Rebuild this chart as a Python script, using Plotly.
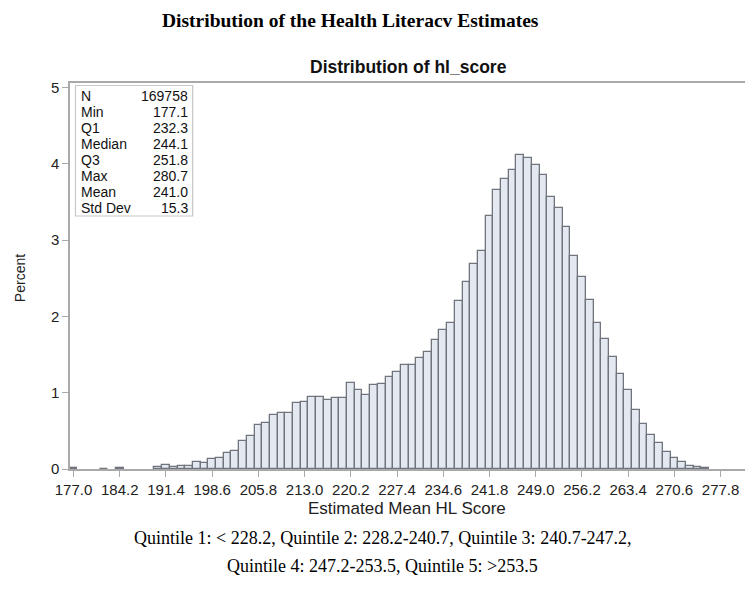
import plotly.graph_objects as go

# Histogram bins (midpoints) and percent of observations
bin_mid = [177.0, 181.8, 184.2, 190.2, 191.4, 192.6, 193.8, 195.0, 196.2, 197.4,
           198.6, 199.8, 201.0, 202.2, 203.4, 204.6, 205.8, 207.0, 208.2, 209.4,
           210.6, 211.8, 213.0, 214.2, 215.4, 216.6, 217.8, 219.0, 220.2, 221.4,
           222.6, 223.8, 225.0, 226.2, 227.4, 228.6, 229.8, 231.0, 232.2, 233.4,
           234.6, 235.8, 237.0, 238.2, 239.4, 240.6, 241.8, 243.0, 244.2, 245.4,
           246.6, 247.8, 249.0, 250.2, 251.4, 252.6, 253.8, 255.0, 256.2, 257.4,
           258.6, 259.8, 261.0, 262.2, 263.4, 264.6, 265.8, 267.0, 268.2, 269.4,
           270.6, 271.8, 273.0, 274.2, 275.4]
percent = [0.01, 0.006, 0.008, 0.03, 0.055, 0.03, 0.04, 0.04, 0.09, 0.08,
           0.13, 0.14, 0.21, 0.23, 0.37, 0.43, 0.58, 0.60, 0.71, 0.74,
           0.73, 0.87, 0.88, 0.95, 0.95, 0.91, 0.935, 0.935, 1.13, 1.03,
           0.975, 1.105, 1.12, 1.21, 1.27, 1.36, 1.36, 1.46, 1.54, 1.69,
           1.82, 1.91, 2.20, 2.45, 2.69, 2.86, 3.32, 3.66, 3.80, 3.92,
           4.12, 4.08, 3.99, 3.85, 3.57, 3.42, 3.17, 2.79, 2.52, 2.21,
           1.92, 1.71, 1.47, 1.25, 1.04, 0.77, 0.59, 0.45, 0.34, 0.22,
           0.14, 0.087, 0.04, 0.026, 0.013]
bin_width = 1.2

x_ticks = [177.0, 184.2, 191.4, 198.6, 205.8, 213.0, 220.2, 227.4, 234.6,
           241.8, 249.0, 256.2, 263.4, 270.6, 277.8]
y_ticks = [0, 1, 2, 3, 4, 5]

stat_names = ["N", "Min", "Q1", "Median", "Q3", "Max", "Mean", "Std Dev"]
stat_values = ["169758", "177.1", "232.3", "244.1", "251.8", "280.7", "241.0", "15.3"]

main_title = "Distribution of the Health Literacv Estimates"
plot_title = "Distribution of hl_score"
x_title = "Estimated Mean HL Score"
y_title = "Percent"
footnote_1 = "Quintile 1: < 228.2, Quintile 2: 228.2-240.7, Quintile 3: 240.7-247.2,"
footnote_2 = "Quintile 4: 247.2-253.5, Quintile 5: >253.5"

# page body has an 8px margin; work in page coordinates and shift
OFF = 8
W, H = 753 - OFF, 595 - OFF
L, R, T, B = 70 - OFF, 747 - OFF, 83 - OFF, 469 - OFF
pw, ph = R - L, B - T

def px(x):
    return (x - OFF - L) / pw

def py(y):
    return (B - (y - OFF)) / ph

SANS = "Liberation Sans, Arial, sans-serif"
SERIF = "Liberation Serif, Times New Roman, serif"

fig = go.Figure()
fig.add_trace(go.Bar(
    x=bin_mid, y=percent, width=[bin_width] * len(bin_mid),
    marker=dict(color="#E4E8F1", line=dict(color="#70747C", width=1.3)),
    hoverinfo="x+y",
))

axis_col = "#A9A9A9"
tick_font = dict(family=SANS, size=15, color="#222222")

fig.update_layout(
    width=W, height=H,
    margin=dict(l=L, r=W - R, t=T, b=H - B),
    plot_bgcolor="white", paper_bgcolor="white",
    showlegend=False, bargap=0,
    xaxis=dict(
        range=[176.45, 281.6], tickmode="array", tickvals=x_ticks,
        ticktext=[f"{v:.1f}" for v in x_ticks],
        showgrid=False, zeroline=False, showline=True, linecolor=axis_col,
        linewidth=1.5, mirror=True, ticks="outside", ticklen=6,
        tickcolor=axis_col, tickfont=tick_font,
    ),
    yaxis=dict(
        range=[0, 5.06], tickmode="array", tickvals=y_ticks,
        ticktext=[str(v) for v in y_ticks],
        showgrid=False, zeroline=False, showline=True, linecolor=axis_col,
        linewidth=1.5, mirror=True, ticks="outside", ticklen=6,
        tickcolor=axis_col, tickfont=tick_font,
    ),
)

# Axis titles
fig.add_annotation(xref="paper", yref="paper", x=px(408), y=py(509), text=x_title,
                   showarrow=False, xanchor="center", yanchor="middle",
                   font=dict(family=SANS, size=17, color="#222222"))
fig.add_annotation(xref="paper", yref="paper", x=px(20), y=py(278), text=y_title,
                   showarrow=False, xanchor="center", yanchor="middle", textangle=-90,
                   font=dict(family=SANS, size=14, color="#222222"))

# Statistics inset box
fig.add_shape(type="rect", xref="paper", yref="paper",
              x0=px(75.5), x1=px(193), y0=py(216), y1=py(85.5),
              line=dict(color="#C8C8C8", width=1.2), fillcolor="white", layer="above")

row0, step = 95.7, 16.09
for i, (nm, val) in enumerate(zip(stat_names, stat_values)):
    yy = py(row0 + i * step)
    fig.add_annotation(xref="paper", yref="paper", x=px(79), y=yy, text=nm,
                       showarrow=False, xanchor="left", yanchor="middle",
                       font=dict(family=SANS, size=14, color="#111111"))
    fig.add_annotation(xref="paper", yref="paper", x=px(190), y=yy, text=val,
                       showarrow=False, xanchor="right", yanchor="middle",
                       font=dict(family=SANS, size=14, color="#111111"))

# Plot title
fig.add_annotation(xref="paper", yref="paper", x=px(410), y=py(67), text=f"<b>{plot_title}</b>",
                   showarrow=False, xanchor="center", yanchor="middle",
                   font=dict(family=SANS, size=17.5, color="#111111"))

# Main (figure) title, kept fully inside the page
fig.add_annotation(xref="paper", yref="paper", x=px(351), y=py(OFF), text=f"<b>{main_title}</b>",
                   showarrow=False, xanchor="center", yanchor="top",
                   font=dict(family=SERIF, size=19.5, color="#000000"))

# Footnotes
fig.add_annotation(xref="paper", yref="paper", x=px(383.5), y=py(538), text=footnote_1,
                   showarrow=False, xanchor="center", yanchor="middle",
                   font=dict(family=SERIF, size=18, color="#000000"))
fig.add_annotation(xref="paper", yref="paper", x=px(383), y=py(566), text=footnote_2,
                   showarrow=False, xanchor="center", yanchor="middle",
                   font=dict(family=SERIF, size=18, color="#000000"))

fig.write_html("out.html")
